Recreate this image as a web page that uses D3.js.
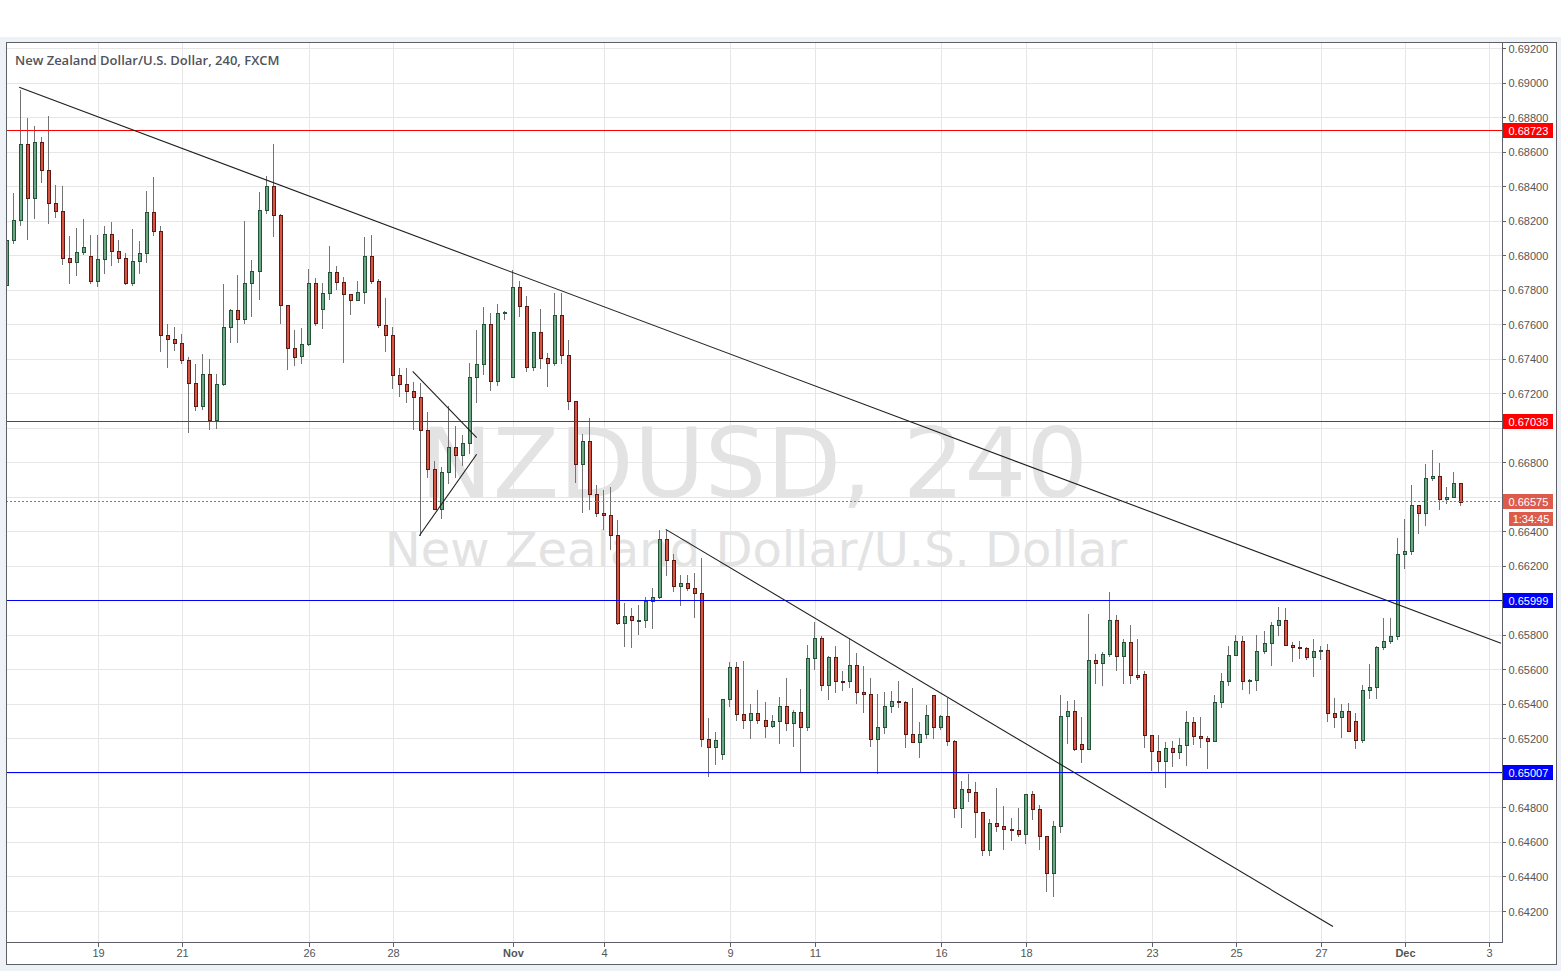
<!DOCTYPE html>
<html><head><meta charset="utf-8">
<script src="https://cdn.jsdelivr.net/npm/d3@7"></script>
<style>
html,body{margin:0;padding:0;background:#eef1f5;}
svg{display:block;}
</style></head><body>
<svg id="chart" width="1561" height="971"></svg>
<script>
// ---- DATA (NZDUSD, 240 min candles, FXCM) ----
const openP = [
0.67830,0.68090,0.68206,0.68647,0.68334,0.68658,0.68496,0.68305,0.68259,0.67986,
0.67963,0.68021,0.67998,0.67853,0.67980,0.68125,0.68027,0.67986,0.67841,0.67969,
0.68015,0.68253,0.68143,0.67540,0.67517,0.67494,0.67395,0.67262,0.67129,0.67314,
0.67048,0.67256,0.67586,0.67685,0.67633,0.67841,0.67911,0.68264,0.68403,0.68235,
0.67714,0.67465,0.67418,0.67488,0.67841,0.67691,0.67783,0.67905,0.67847,0.67778,
0.67743,0.67789,0.67998,0.67853,0.67598,0.67540,0.67308,0.67256,0.67215,0.67181,
0.66990,0.66764,0.66532,0.66746,0.66891,0.66845,0.66914,0.67297,0.67372,0.67604,
0.67274,0.67668,0.67297,0.67818,0.67708,0.67355,0.67557,0.67407,0.67378,0.67656,
0.67424,0.67158,0.66793,0.66926,0.66619,0.66509,0.66497,0.66381,0.65871,0.65912,
0.65887,0.65889,0.65999,0.66022,0.66358,0.66236,0.66086,0.66103,0.66074,0.66045,
0.65199,0.65153,0.65112,0.65431,0.65616,0.65344,0.65309,0.65350,0.65309,0.65275,
0.65304,0.65390,0.65292,0.65356,0.65269,0.65669,0.65784,0.65512,0.65674,0.65535,
0.65535,0.65628,0.65472,0.65460,0.65199,0.65269,0.65390,0.65419,0.65414,0.65228,
0.65182,0.65228,0.65454,0.65269,0.65333,0.65188,0.64799,0.64910,0.64892,0.64776,
0.64556,0.64713,0.64695,0.64678,0.64675,0.64649,0.64881,0.64794,0.64637,0.64423,
0.64695,0.65333,0.65362,0.65170,0.65141,0.65657,0.65640,0.65692,0.65889,0.65680,
0.65761,0.65570,0.65576,0.65222,0.65130,0.65072,0.65147,0.65124,0.65165,0.65298,
0.65217,0.65205,0.65188,0.65414,0.65535,0.65686,0.65767,0.65535,0.65541,0.65709,
0.65756,0.65860,0.65889,0.65744,0.65732,0.65727,0.65674,0.65709,0.65715,0.65350,
0.65327,0.65362,0.65304,0.65193,0.65483,0.65501,0.65732,0.65767,0.65796,0.66271,
0.66289,0.66555,0.66509,0.66712,0.66723,0.66590,0.66601,0.66682];
const highP = [
0.68102,0.68363,0.68960,0.68797,0.68751,0.68687,0.68809,0.68409,0.68403,0.68114,
0.68160,0.68212,0.68119,0.68119,0.68172,0.68195,0.68090,0.68015,0.68154,0.68085,
0.68374,0.68456,0.68172,0.67604,0.67586,0.67546,0.67412,0.67372,0.67430,0.67401,
0.67314,0.67836,0.67691,0.67888,0.68201,0.67975,0.68369,0.68461,0.68647,0.68241,
0.67716,0.67569,0.67581,0.67922,0.67870,0.67841,0.68056,0.67940,0.67876,0.67780,
0.67853,0.68108,0.68119,0.67865,0.67754,0.67586,0.67349,0.67349,0.67268,0.67262,
0.67094,0.66810,0.66775,0.67129,0.67013,0.66961,0.67378,0.67569,0.67702,0.67668,
0.67720,0.67679,0.67917,0.67853,0.67766,0.67560,0.67691,0.67436,0.67783,0.67783,
0.67511,0.67160,0.66966,0.67059,0.66671,0.66642,0.66659,0.66468,0.65987,0.65958,
0.65976,0.66022,0.66074,0.66410,0.66410,0.66271,0.66149,0.66149,0.66161,0.66248,
0.65321,0.65240,0.65433,0.65645,0.65645,0.65651,0.65402,0.65483,0.65414,0.65338,
0.65443,0.65553,0.65367,0.65489,0.65744,0.65877,0.65796,0.65680,0.65738,0.65593,
0.65779,0.65698,0.65622,0.65553,0.65460,0.65472,0.65477,0.65535,0.65420,0.65495,
0.65298,0.65396,0.65456,0.65340,0.65437,0.65193,0.64956,0.64996,0.64950,0.64778,
0.64736,0.64915,0.64811,0.64742,0.64799,0.64883,0.64898,0.64817,0.64640,0.64724,
0.65454,0.65419,0.65425,0.65327,0.65924,0.65692,0.65703,0.66051,0.65918,0.65779,
0.65860,0.65779,0.65593,0.65225,0.65222,0.65182,0.65188,0.65205,0.65362,0.65327,
0.65327,0.65217,0.65454,0.65582,0.65738,0.65802,0.65796,0.65545,0.65802,0.65825,
0.65877,0.65964,0.65958,0.65761,0.65767,0.65732,0.65779,0.65738,0.65750,0.65437,
0.65402,0.65408,0.65350,0.65512,0.65634,0.65738,0.65900,0.65900,0.66364,0.66474,
0.66671,0.66557,0.66793,0.66874,0.66798,0.66659,0.66746,0.66684];
const lowP = [
0.67818,0.68073,0.68177,0.68096,0.68218,0.68427,0.68189,0.68224,0.67951,0.67841,
0.67888,0.68009,0.67841,0.67824,0.67899,0.67946,0.67963,0.67835,0.67830,0.67899,
0.67963,0.68119,0.67447,0.67355,0.67453,0.67378,0.66978,0.67106,0.67111,0.66995,
0.67001,0.67250,0.67499,0.67499,0.67609,0.67651,0.67749,0.68247,0.68114,0.67609,
0.67343,0.67366,0.67378,0.67485,0.67598,0.67581,0.67749,0.67807,0.67384,0.67662,
0.67740,0.67725,0.67841,0.67586,0.67447,0.67233,0.67187,0.67152,0.66995,0.66381,
0.66717,0.66530,0.66480,0.66682,0.66717,0.66787,0.66856,0.67152,0.67314,0.67221,
0.67250,0.67633,0.67295,0.67651,0.67331,0.67337,0.67349,0.67245,0.67366,0.67378,
0.67111,0.66688,0.66515,0.66530,0.66491,0.66416,0.66300,0.65868,0.65738,0.65732,
0.65808,0.65848,0.65842,0.66016,0.66149,0.66057,0.65976,0.66063,0.65906,0.65159,
0.64985,0.65054,0.65083,0.65390,0.65309,0.65263,0.65205,0.65292,0.65211,0.65269,
0.65176,0.65251,0.65159,0.65008,0.65251,0.65605,0.65483,0.65431,0.65472,0.65483,
0.65501,0.65408,0.65356,0.65159,0.65002,0.65234,0.65356,0.65385,0.65153,0.65180,
0.65095,0.65205,0.65205,0.65257,0.65165,0.64747,0.64689,0.64840,0.64631,0.64527,
0.64527,0.64666,0.64562,0.64614,0.64637,0.64597,0.64736,0.64562,0.64319,0.64290,
0.64660,0.65176,0.65136,0.65066,0.65139,0.65524,0.65512,0.65680,0.65599,0.65524,
0.65524,0.65547,0.65153,0.65020,0.65008,0.64921,0.65043,0.65089,0.65049,0.65170,
0.65153,0.65031,0.65186,0.65385,0.65512,0.65684,0.65489,0.65466,0.65483,0.65698,
0.65628,0.65802,0.65742,0.65651,0.65669,0.65663,0.65564,0.65663,0.65304,0.65269,
0.65211,0.65244,0.65147,0.65182,0.65437,0.65437,0.65721,0.65756,0.65779,0.66190,
0.66271,0.66393,0.66439,0.66700,0.66532,0.66567,0.66599,0.66555];
const closeP = [
0.68090,0.68206,0.68647,0.68334,0.68658,0.68496,0.68305,0.68259,0.67986,0.67963,
0.68021,0.68050,0.67853,0.67980,0.68125,0.68027,0.67986,0.67841,0.67969,0.68015,
0.68253,0.68143,0.67540,0.67517,0.67494,0.67395,0.67262,0.67129,0.67314,0.67048,
0.67256,0.67586,0.67685,0.67633,0.67841,0.67911,0.68264,0.68403,0.68235,0.67714,
0.67465,0.67412,0.67488,0.67841,0.67609,0.67783,0.67905,0.67847,0.67778,0.67743,
0.67789,0.67998,0.67853,0.67598,0.67540,0.67308,0.67256,0.67215,0.67181,0.66990,
0.66764,0.66532,0.66746,0.66891,0.66845,0.66914,0.67297,0.67372,0.67604,0.67274,
0.67668,0.67673,0.67818,0.67708,0.67355,0.67557,0.67407,0.67378,0.67656,0.67424,
0.67158,0.66793,0.66926,0.66619,0.66509,0.66497,0.66381,0.65871,0.65912,0.65889,
0.65889,0.65999,0.66022,0.66358,0.66236,0.66086,0.66103,0.66074,0.66045,0.65199,
0.65153,0.65193,0.65431,0.65616,0.65344,0.65309,0.65350,0.65309,0.65275,0.65304,
0.65390,0.65292,0.65356,0.65269,0.65669,0.65784,0.65512,0.65674,0.65535,0.65532,
0.65628,0.65472,0.65460,0.65199,0.65269,0.65390,0.65419,0.65414,0.65228,0.65182,
0.65228,0.65338,0.65269,0.65333,0.65188,0.64799,0.64910,0.64892,0.64776,0.64556,
0.64713,0.64695,0.64678,0.64675,0.64649,0.64881,0.64794,0.64637,0.64423,0.64695,
0.65333,0.65362,0.65141,0.65141,0.65657,0.65640,0.65692,0.65889,0.65680,0.65761,
0.65570,0.65559,0.65222,0.65130,0.65072,0.65147,0.65124,0.65165,0.65298,0.65217,
0.65205,0.65188,0.65414,0.65535,0.65686,0.65767,0.65535,0.65541,0.65709,0.65756,
0.65860,0.65889,0.65744,0.65732,0.65727,0.65674,0.65709,0.65715,0.65350,0.65327,
0.65362,0.65246,0.65193,0.65483,0.65501,0.65732,0.65767,0.65796,0.66271,0.66289,
0.66555,0.66509,0.66712,0.66723,0.66590,0.66601,0.66682,0.66575];

// time-axis ticks (bar index -> label)
const tickIndex  = [13,25,43,55,72,85,103,115,133,145,163,175,187,199,211];
const tickLabels = ["19","21","26","28","Nov","4","9","11","16","18","23","25","27","Dec","3"];
const monthLabels = ["Nov","Dec"];
// price axis
const priceMin = 0.642, priceMax = 0.692, priceStep = 0.002;
// horizontal level drawings
const levelValues = [0.68723, 0.67038, 0.65999, 0.65007];
// trend line drawings: [barIndex1, price1, barIndex2, price2]
const trendStartIdx  = [1.8, 93.8, 57.8, 58.74];
const trendStartPx   = [0.68975, 0.66414, 0.67330, 0.66377];
const trendEndIdx    = [212.65, 188.74, 66.9, 66.9];
const trendEndPx     = [0.65754, 0.64113, 0.66945, 0.66849];
const lastPrice = 0.66575;
const countdown = "1:34:45";
const titleText = "New Zealand Dollar/U.S. Dollar, 240, FXCM";
const watermark1 = "NZDUSD, 240";
const watermark2 = "New Zealand Dollar/U.S. Dollar";

// ---- LAYOUT ----
const W = 1561, H = 971;
const L = 6, R = 1502, T = 42, B = 942, FR = 1556, FB = 964;
const levelColors = ["#ff0000", "#ff0000", "#0000ff", "#0000ff"];
const upFill = "#6ba583", upLine = "#225437", dnFill = "#d75442", dnLine = "#5b1a13";
const wickCol = "#737375", gridCol = "#e6e6e6", axisText = "#555555";
const N = closeP.length;

const x = d3.scaleLinear().domain([0, 207]).range([6.5, 1461.3]);
const y = d3.scaleLinear().domain([priceMin, priceMax]).range([911.5, 48.5]);
const py = v => Math.floor(y(v));

const svg = d3.select("#chart");
svg.append("rect").attr("width", W).attr("height", H).attr("fill", "#eef1f5");
svg.append("rect").attr("width", W).attr("height", 37).attr("fill", "#ffffff");
svg.append("rect").attr("x", L + 0.5).attr("y", T + 0.5).attr("width", FR - L).attr("height", FB - T)
  .attr("fill", "#ffffff").attr("stroke", "#5d6066");

const defs = svg.append("defs");
defs.append("clipPath").attr("id", "plotclip").append("rect")
  .attr("x", L + 1).attr("y", T + 1).attr("width", R - L - 1).attr("height", B - T - 1);

const plot = svg.append("g").attr("clip-path", "url(#plotclip)");

// grid
const priceTicks = d3.range(0, Math.round((priceMax - priceMin) / priceStep) + 1).map(k => +(priceMin + k * priceStep).toFixed(5));
plot.append("g").selectAll("line").data(priceTicks).join("line")
  .attr("x1", L).attr("x2", R)
  .attr("y1", d => py(d) + 0.5).attr("y2", d => py(d) + 0.5)
  .attr("stroke", gridCol).attr("stroke-width", 1);
plot.append("g").selectAll("line").data(tickIndex).join("line")
  .attr("y1", T).attr("y2", B)
  .attr("x1", d => Math.round(x(d)) + 0.5).attr("x2", d => Math.round(x(d)) + 0.5)
  .attr("stroke", gridCol).attr("stroke-width", 1);

// watermark
const cxPlot = (L + R) / 2;
plot.append("text").attr("x", cxPlot).attr("y", 497).attr("text-anchor", "middle")
  .attr("font-family", "DejaVu Sans, sans-serif").attr("font-size", 97)
  .attr("fill", "#e3e3e3").text(watermark1);
plot.append("text").attr("x", cxPlot + 2).attr("y", 566).attr("text-anchor", "middle")
  .attr("font-family", "DejaVu Sans, sans-serif").attr("font-size", 48)
  .attr("fill", "#e3e3e3").text(watermark2);

// candles
const idx = d3.range(N);
const cg = plot.append("g");
cg.selectAll("line.wick").data(idx).join("line").attr("class", "wick")
  .attr("x1", i => Math.round(x(i)) - 0.5).attr("x2", i => Math.round(x(i)) - 0.5)
  .attr("y1", i => Math.round(y(highP[i]))).attr("y2", i => Math.round(y(lowP[i])) + 1)
  .attr("stroke", wickCol).attr("stroke-width", 1);
cg.selectAll("rect.body").data(idx).join("rect").attr("class", "body")
  .attr("x", i => Math.round(x(i)) - 1.5)
  .attr("width", 3)
  .attr("y", i => Math.round(y(Math.max(openP[i], closeP[i]))) + 0.5)
  .attr("height", i => Math.max(1, Math.round(y(Math.min(openP[i], closeP[i]))) - Math.round(y(Math.max(openP[i], closeP[i])))))
  .attr("fill", i => closeP[i] >= openP[i] ? upFill : dnFill)
  .attr("stroke", i => closeP[i] >= openP[i] ? upLine : dnLine)
  .attr("stroke-width", 1);

// last price dashed line
plot.append("line").attr("x1", L).attr("x2", R)
  .attr("y1", py(lastPrice) + 0.5).attr("y2", py(lastPrice) + 0.5)
  .attr("stroke", "#d9574a").attr("stroke-dasharray", "2,2").attr("stroke-width", 1);

// horizontal levels
plot.append("g").selectAll("line").data(levelValues).join("line")
  .attr("x1", L).attr("x2", R)
  .attr("y1", d => py(d) + 0.5).attr("y2", d => py(d) + 0.5)
  .attr("stroke", (d, i) => levelColors[i]).attr("stroke-width", 1);

// trend lines
plot.append("g").selectAll("line").data(d3.range(trendStartIdx.length)).join("line")
  .attr("x1", i => x(trendStartIdx[i])).attr("y1", i => y(trendStartPx[i]))
  .attr("x2", i => x(trendEndIdx[i])).attr("y2", i => y(trendEndPx[i]))
  .attr("stroke", "#1e1e1e").attr("stroke-width", 1.1);

// title
svg.append("text").attr("x", 15).attr("y", 65)
  .attr("font-family", "Open Sans, sans-serif").attr("font-weight", 600).attr("font-size", 13)
  .attr("fill", "#4f535b").text(titleText);

// axis lines
svg.append("line").attr("x1", R + 0.5).attr("x2", R + 0.5).attr("y1", T).attr("y2", B + 1)
  .attr("stroke", "#5d6066");
svg.append("line").attr("x1", L).attr("x2", R + 1).attr("y1", B + 0.5).attr("y2", B + 0.5)
  .attr("stroke", "#5d6066");

// price axis (labels hidden where a price badge covers them)
const badgeValues = levelValues.concat([lastPrice]);
const visibleTicks = priceTicks.filter(t => badgeValues.every(b => Math.abs(y(t) - y(b)) >= 10));
const ax = svg.append("g");
ax.selectAll("line").data(priceTicks).join("line")
  .attr("x1", R).attr("x2", R + 4)
  .attr("y1", d => py(d) + 0.5).attr("y2", d => py(d) + 0.5)
  .attr("stroke", "#5d6066");
ax.selectAll("text").data(visibleTicks).join("text")
  .attr("x", R + 6.5).attr("y", d => y(d) + 4)
  .attr("font-family", "Liberation Sans, Arial, sans-serif").attr("font-size", 11)
  .attr("fill", axisText).text(d => d3.format(".5f")(d));

// time axis
const tx = svg.append("g");
tx.selectAll("line").data(tickIndex).join("line")
  .attr("x1", d => Math.round(x(d)) + 0.5).attr("x2", d => Math.round(x(d)) + 0.5)
  .attr("y1", B).attr("y2", B + 5).attr("stroke", "#5d6066");
tx.selectAll("text").data(tickIndex).join("text")
  .attr("x", d => Math.round(x(d)) + 0.5).attr("y", 957).attr("text-anchor", "middle")
  .attr("font-family", "Liberation Sans Narrow, Liberation Sans, Arial, sans-serif").attr("font-size", 11)
  .attr("font-weight", (d, i) => monthLabels.includes(tickLabels[i]) ? "bold" : "normal")
  .attr("fill", axisText).text((d, i) => tickLabels[i]);

// axis badges
function badge(v, color, txt) {
  const yy = py(v);
  svg.append("rect").attr("x", R + 1).attr("y", yy - 7).attr("width", 50).attr("height", 15).attr("fill", color);
  svg.append("text").attr("x", R + 6.5).attr("y", yy + 4.5)
    .attr("font-family", "Liberation Sans, Arial, sans-serif").attr("font-size", 11)
    .attr("fill", "#ffffff").text(txt);
}
levelValues.forEach((v, i) => badge(v, levelColors[i], d3.format(".5f")(v)));
badge(lastPrice, "#dc5b4b", d3.format(".5f")(lastPrice));
// countdown badge
{
  const yy = py(lastPrice) + 15;
  svg.append("rect").attr("x", R + 7).attr("y", yy - 4).attr("width", 44).attr("height", 14).attr("fill", "#dc5b4b");
  svg.append("text").attr("x", R + 29).attr("y", yy + 7).attr("text-anchor", "middle")
    .attr("font-family", "Liberation Sans, Arial, sans-serif").attr("font-size", 11)
    .attr("fill", "#ffffff").text(countdown);
}
</script>
</body></html>
